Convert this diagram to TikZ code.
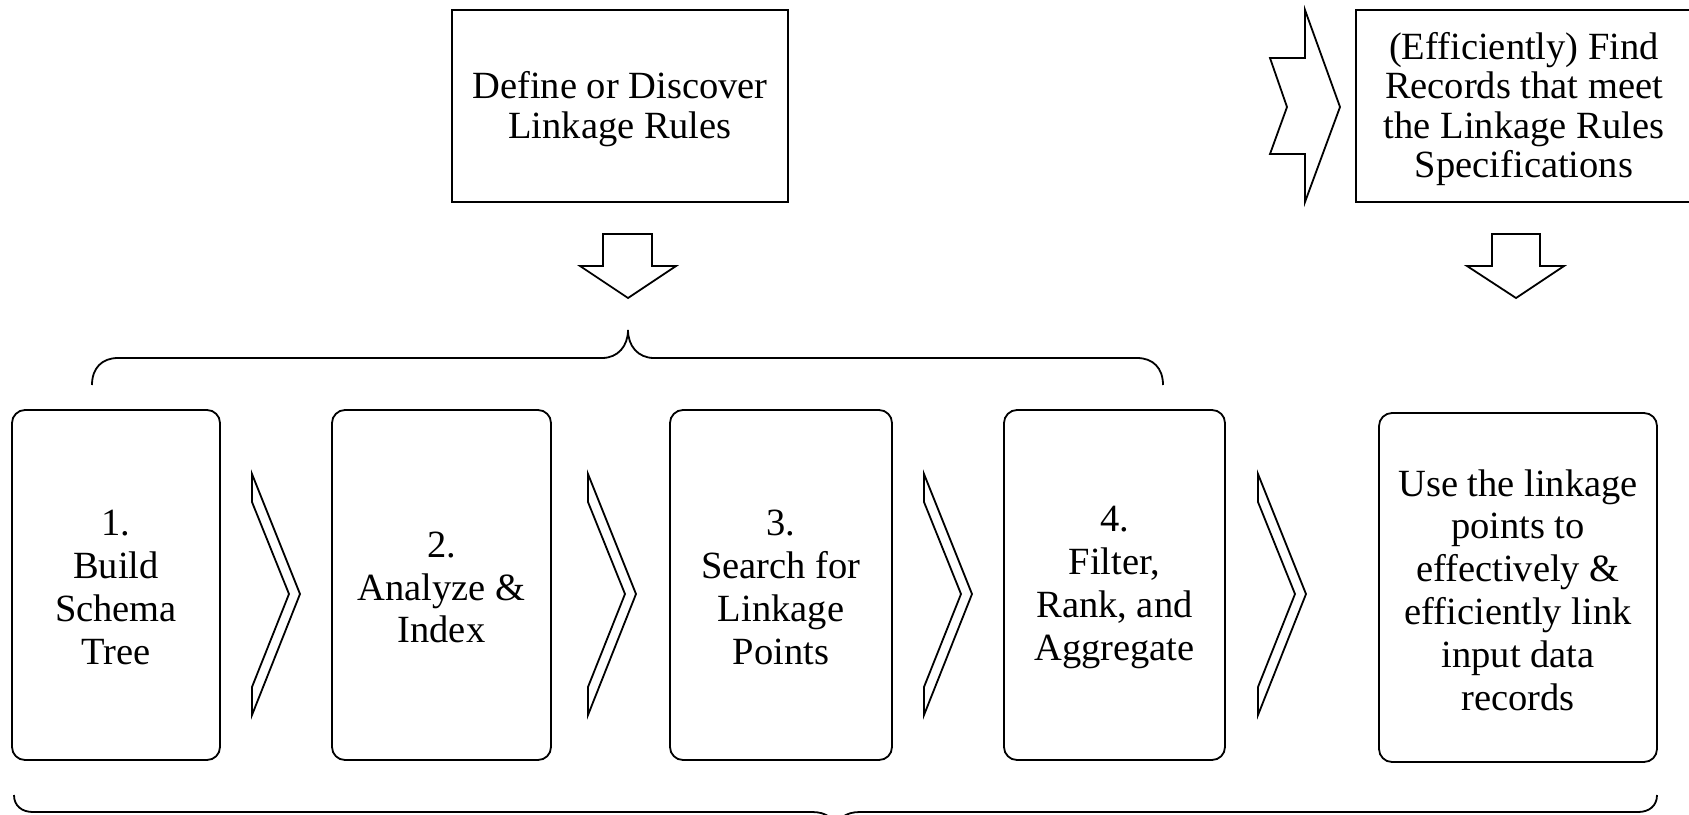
\documentclass[tikz,border=0pt]{standalone}
\usepackage{fontspec}
\setmainfont{Liberation Serif}
\begin{document}
\begin{tikzpicture}[x=1pt, y=-1pt, line width=1.8pt, line join=miter,
  plainbox/.style={draw, inner sep=0pt, minimum width=336pt, minimum height=192pt},
  plaintext/.style={align=center, inner sep=0pt,
    font=\fontsize{38.5}{39.5}\selectfont},
  stepbox/.style={draw, rounded corners=13pt, inner sep=0pt, minimum height=350pt},
  steptext/.style={align=center, inner sep=0pt,
    font=\fontsize{38.5}{42.8}\selectfont},
  blockarrow/.style={draw, fill=white, line join=miter},
  bracepath/.style={draw, line cap=butt}]

\useasboundingbox (0,0) rectangle (1689,814);

% top row
\node[plainbox] (rules) at (620,106) {};
\node[plaintext] (rulestext) at ([yshift=-3.2pt]rules.center)
  {Define or Discover\\Linkage Rules};
\node[plainbox] (find) at (1524,106) {};
\node[plaintext] (findtext) at ([yshift=-3.2pt]find.center)
  {(Efficiently) Find\\Records that meet\\the Linkage Rules\\Specifications};

% notched arrow pointing at the right box
\draw[blockarrow] (1305,10) -- (1340,107) -- (1305,202) -- (1305,154)
  -- (1270,154) -- (1287,107) -- (1270,58) -- (1305,58) -- cycle;

% down arrows
\draw[blockarrow] (603,234) -- (652,234) -- (652,266) -- (676,266)
  -- (628,298) -- (580,266) -- (603,266) -- cycle;
\draw[blockarrow] (1492,234) -- (1540,234) -- (1540,266) -- (1564,266)
  -- (1516,298) -- (1467,266) -- (1492,266) -- cycle;

% brace grouping steps 1-4
\draw[bracepath] (92,385) .. controls (92,368) and (102,358) .. (118,358)
  -- (602,358) .. controls (618,358) and (628,346) .. (628,330);
\draw[bracepath] (1163,385) .. controls (1163,368) and (1153,358) .. (1137,358)
  -- (654,358) .. controls (638,358) and (628,346) .. (628,330);

% step boxes
\node[stepbox, minimum width=208pt] (s1) at (116,585) {};
\node[steptext] (s1text) at ([yshift=-2.5pt]s1.center) {1.\\Build\\Schema\\Tree};
\node[stepbox, minimum width=219pt] (s2) at (441.5,585) {};
\node[steptext] (s2text) at ([yshift=-2.5pt]s2.center) {2.\\Analyze \&\\Index};
\node[stepbox, minimum width=222pt] (s3) at (781,585) {};
\node[steptext] (s3text) at ([yshift=-2.5pt]s3.center) {3.\\Search for\\Linkage\\Points};
\node[stepbox, minimum width=221pt] (s4) at (1114.5,585) {};
\node[steptext] (s4text) at ([yshift=-2.5pt]s4.center) {4.\\Filter,\\Rank, and\\Aggregate};
\node[stepbox, minimum width=278pt, minimum height=349pt] (use) at (1518,587.5) {};
\node[steptext] (usetext) at ([yshift=-2.5pt]use.center)
  {Use the linkage\\points to\\effectively \&\\efficiently link\\input data\\records};

% chevrons between the steps
\foreach \dx in {0,336,672,1006}{
  \draw[blockarrow] (252+\dx,474) -- (300+\dx,594) -- (252+\dx,715)
    -- (252+\dx,687) -- (289+\dx,594) -- (252+\dx,502) -- cycle;
}

% brace along the bottom
\draw[bracepath] (14,795) .. controls (14,806) and (22,812) .. (33,812)
  -- (812,812) .. controls (826,812) and (836,818) .. (836,834);
\draw[bracepath] (1657,795) .. controls (1657,806) and (1649,812) .. (1638,812)
  -- (860,812) .. controls (846,812) and (836,818) .. (836,834);
\end{tikzpicture}
\end{document}
